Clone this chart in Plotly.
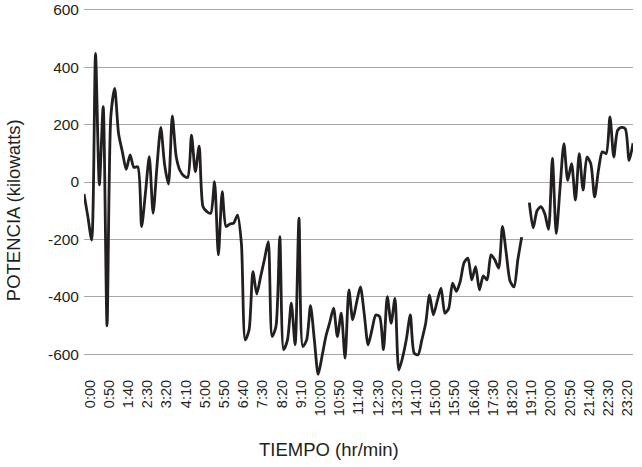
import plotly.graph_objects as go

# categories: every 10 minutes of the day
times = [f"{h}:{m:02d}" for h in range(24) for m in range(0, 60, 10)]

# power readings (kilowatts), None = missing reading
potencia = [
    -42, -120, -202, 448, -10, 262, -501, 230, 326, 169,
    105, 44, 94, 51, 53, -155, -39, 88, -109, 53,
    190, 60, -7, 230, 90, 40, 21, 16, 163, 36,
    125, -86, -103, -109, 1, -254, -34, -155, -146, -143,
    -115, -215, -550, -515, -312, -390, -330, -270, -208, -538,
    -503, -190, -584, -550, -422, -567, -126, -573, -550, -431,
    -550, -670, -607, -538, -490, -439, -538, -457, -613, -376,
    -480, -420, -365, -460, -567, -515, -463, -469, -584, -399,
    -492, -405, -655, -610, -545, -463, -596, -602, -550, -492,
    -393, -463, -415, -370, -457, -440, -352, -381, -346, -281,
    -265, -341, -295, -376, -327, -341, -254, -271, -300, -155,
    -250, -346, -365, -271, -192, None, -72, -160, -100, -86,
    -110, -165, 82, -180, -20, 134, 6, 64, -63, 99,
    -28, 87, 64, -52, 41, 105, 99, 227, 87, 180,
    190, 185, 75, 135,
]

tick_labels = times[::5]
y_ticks = [-600, -400, -200, 0, 200, 400, 600]

FONT = "Liberation Sans, Arial, Helvetica, sans-serif"
TXT = "#231f20"

fig = go.Figure()
fig.add_trace(go.Scatter(
    x=times, y=potencia, mode="lines",
    line=dict(color="#231f20", width=2.8, shape="spline", smoothing=0.7),
    connectgaps=False, hoverinfo="skip",
))

fig.update_layout(
    template="none",
    width=642, height=467,
    margin=dict(l=84, r=9, t=8, b=83.5, pad=0, autoexpand=False),
    paper_bgcolor="white", plot_bgcolor="white",
    showlegend=False,
    font=dict(family=FONT, color=TXT),
    xaxis=dict(
        type="category", range=[0, 143], automargin=False,
        tickmode="array", tickvals=tick_labels, ticktext=tick_labels,
        tickangle=-90, showgrid=False, zeroline=False, showline=False,
        ticks="", tickfont=dict(size=14.5, family=FONT, color=TXT),
        ticklabelstandoff=-7, ticklabelshift=6,
    ),
    yaxis=dict(
        range=[-700, 606], automargin=False,
        tickmode="array", tickvals=y_ticks,
        ticktext=[str(v) for v in y_ticks],
        showgrid=True, gridcolor="#a7a7a7", gridwidth=1,
        zeroline=False, showline=False, ticks="",
        tickfont=dict(size=15.5, family=FONT, color=TXT),
        ticklabelstandoff=4, ticklabeloverflow="allow",
    ),
    annotations=[
        dict(text="POTENCIA (kilowatts)", x=-0.1294, y=0.4607,
             xref="paper", yref="paper", textangle=-90, showarrow=False,
             xanchor="center", yanchor="middle",
             font=dict(size=18.5, family=FONT, color=TXT)),
        dict(text="TIEMPO (hr/min)", x=0.447, y=-0.178,
             xref="paper", yref="paper", showarrow=False,
             xanchor="center", yanchor="middle",
             font=dict(size=18.5, family=FONT, color=TXT)),
    ],
)

# remove the default page margin so the chart sits at the window's corner
fig.write_html("out.html", config={"displayModeBar": False},
               post_script="document.body.style.margin='0px';")
